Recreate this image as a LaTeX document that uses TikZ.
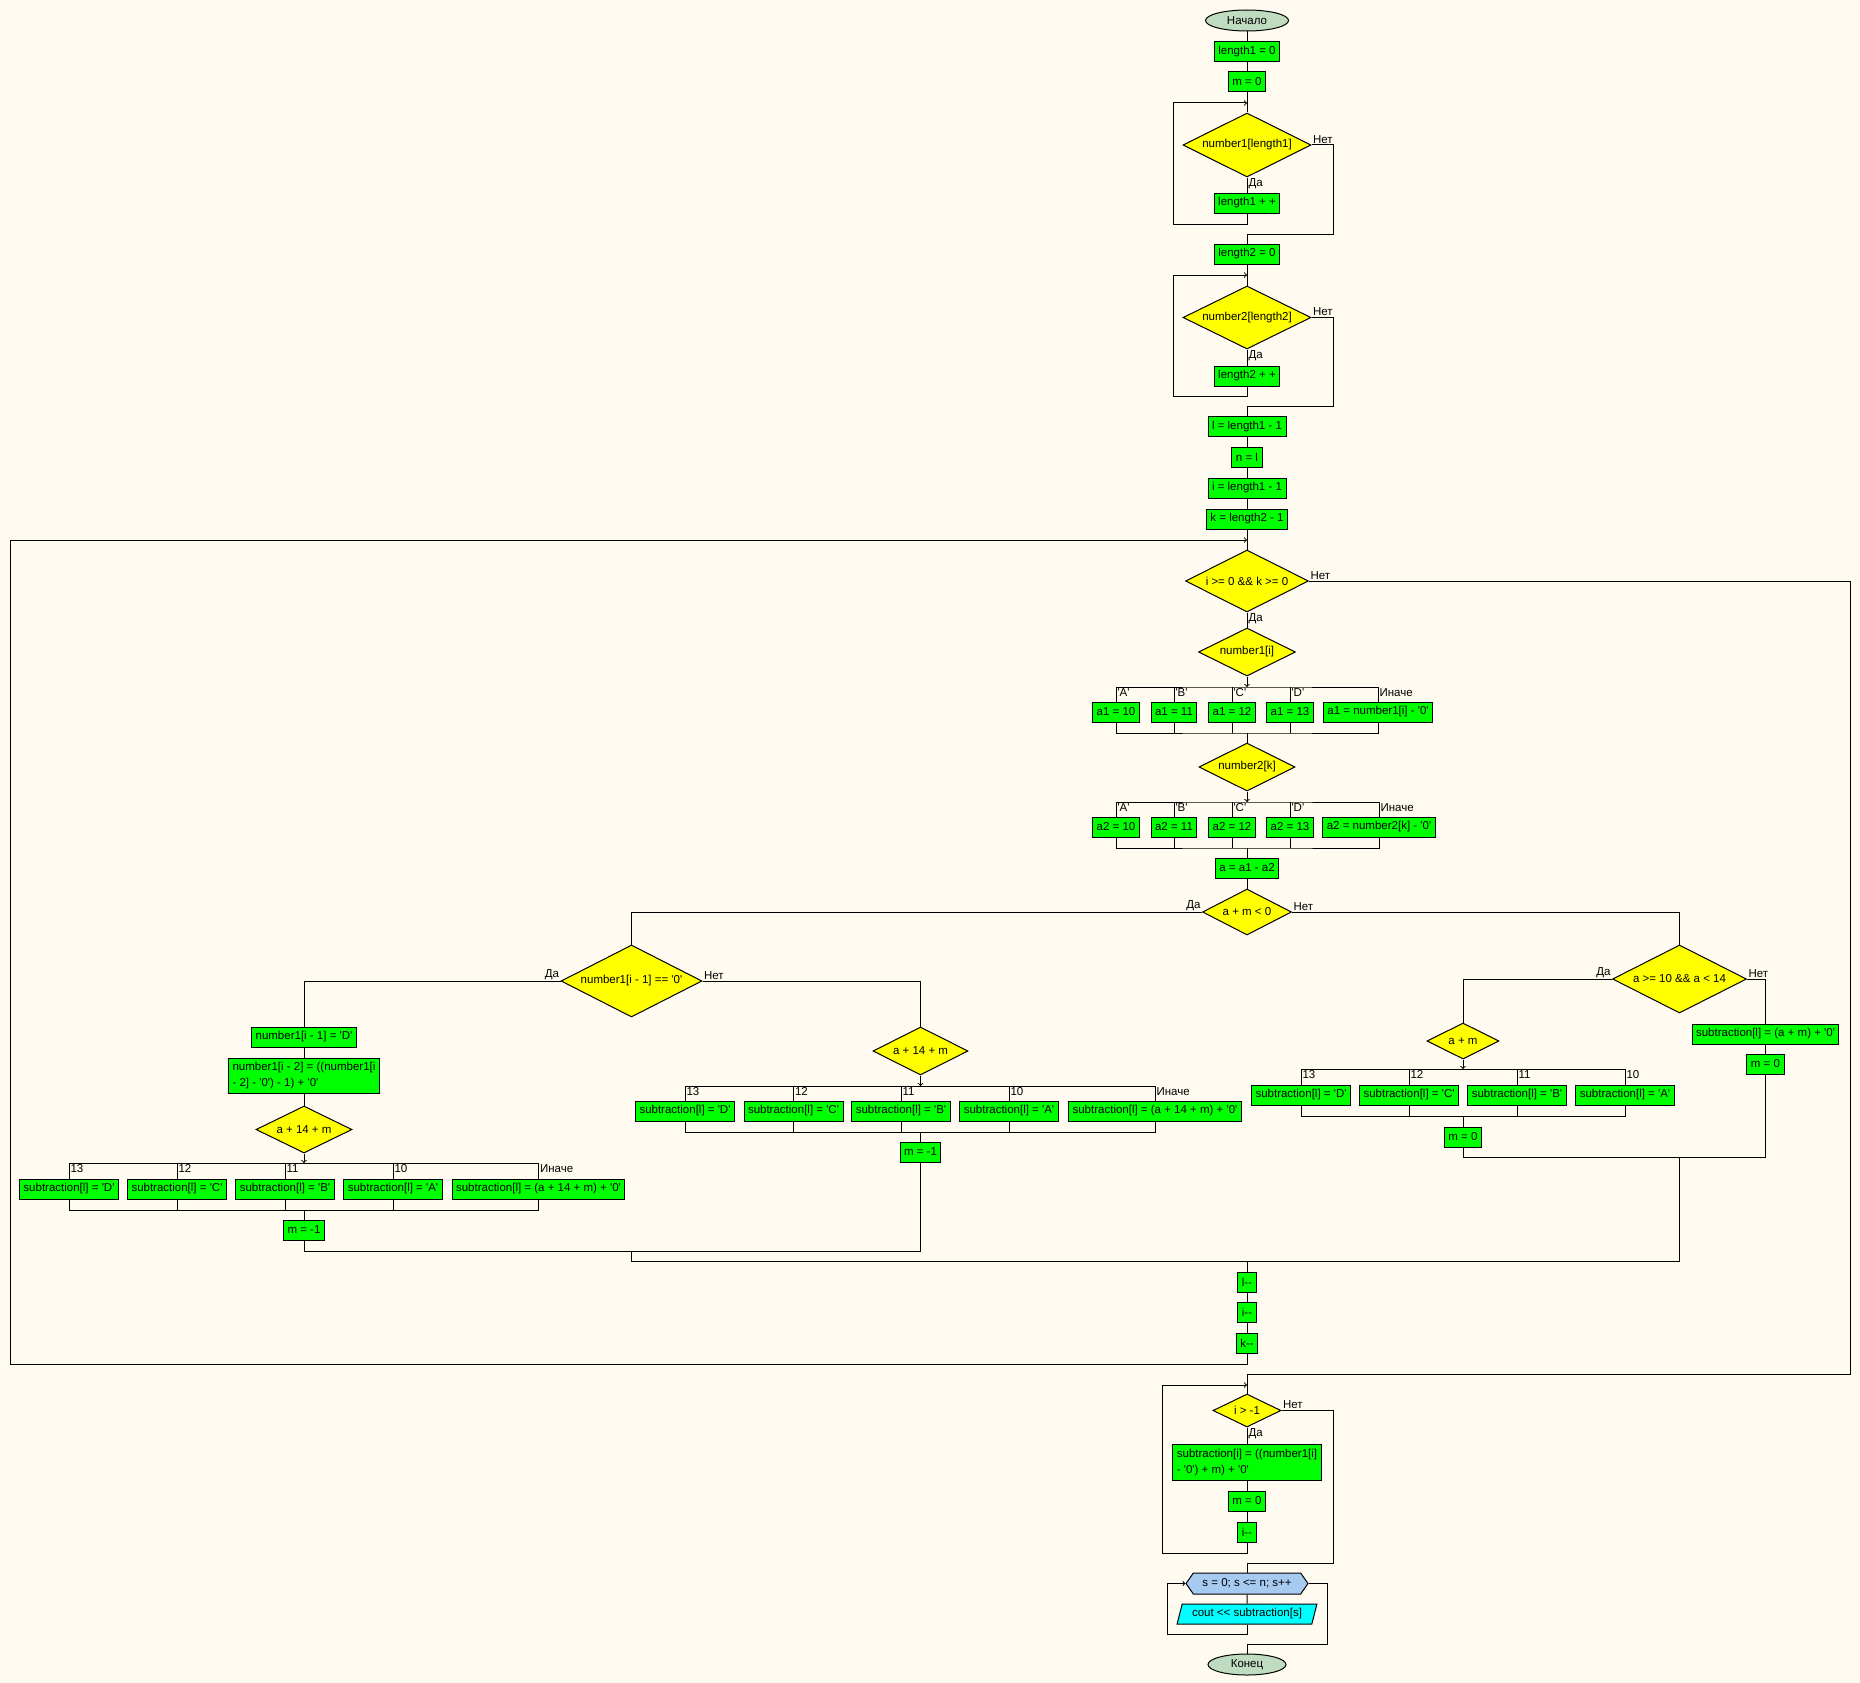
\documentclass[tikz,border=0pt]{standalone}
\usepackage{fontspec}
\newfontfamily\flowfont{Liberation Sans}
\usepackage{tikz}
\usetikzlibrary{shapes}

\definecolor{cream}{HTML}{FFFBF0}
\definecolor{flowgreen}{HTML}{00FF00}
\definecolor{flowyellow}{HTML}{FFFF00}
\definecolor{termgreen}{HTML}{C0DCC0}
\definecolor{loopblue}{HTML}{A6CAF0}
\definecolor{iocyan}{HTML}{00FFFF}

\begin{document}
\begin{tikzpicture}[x=1pt, y=-1pt, line width=1pt, font=\flowfont\fontsize{11.5}{16}\selectfont,
  term/.style={draw, ellipse, fill=termgreen, inner sep=0pt},
  proc/.style={draw, rectangle, fill=flowgreen, minimum height=20pt, inner xsep=4pt, inner ysep=4.5pt},
  cond/.style={draw, diamond, aspect=2, fill=flowyellow, inner sep=0pt},
  lbl/.style={inner sep=1pt}]

\fill [cream] (0,0) rectangle (1860,1683);
\useasboundingbox (0,0) rectangle (1860,1683);

\node [term, minimum width=83pt, minimum height=21pt] (0) at (1247,20.5) {Начало};
\node [proc] (1) at (1247,51.5) {length1 = 0};
\node [proc] (2) at (1247,82) {m = 0};
\node [cond, minimum width=128pt, minimum height=64pt] (3) at (1247,145) {number1[length1]};
\node [proc] (4) at (1247,203) {length1 + +};
\node [proc] (5) at (1247,254) {length2 = 0};
\node [cond, minimum width=128pt, minimum height=63pt] (6) at (1247,317.5) {number2[length2]};
\node [proc] (7) at (1247,376) {length2 + +};
\node [proc] (8) at (1247,426.5) {l = length1 - 1};
\node [proc] (9) at (1247,457) {n = l};
\node [proc] (10) at (1247,488) {i = length1 - 1};
\node [proc] (11) at (1247,519) {k = length2 - 1};
\node [cond, minimum width=123pt, minimum height=62pt] (12) at (1247,581) {i >= 0 \&\& k >= 0};
\node [cond, minimum width=97pt, minimum height=48pt] (13) at (1247,652) {number1[i]};
\node [proc] (14) at (1116,712) {a1 = 10};
\node [proc] (15) at (1174,712) {a1 = 11};
\node [proc] (16) at (1232,712) {a1 = 12};
\node [proc] (17) at (1290,712) {a1 = 13};
\node [proc] (18) at (1378,712) {a1 = number1[i] - '0'};
\node [cond, minimum width=96pt, minimum height=48pt] (19) at (1247,767) {number2[k]};
\node [proc] (20) at (1116,827) {a2 = 10};
\node [proc] (21) at (1174,827) {a2 = 11};
\node [proc] (22) at (1232,827) {a2 = 12};
\node [proc] (23) at (1290,827) {a2 = 13};
\node [proc] (24) at (1379,827) {a2 = number2[k] - '0'};
\node [proc] (25) at (1247,868) {a = a1 - a2};
\node [cond, minimum width=89pt, minimum height=46pt] (26) at (1247,912) {a + m < 0};
\node [cond, minimum width=141pt, minimum height=72pt] (27) at (631.5,981) {number1[i - 1] == '0'};
\node [proc] (28) at (304,1037) {number1[i - 1] = 'D'};
\node [proc, align=left] (29) at (304,1076) {number1[i - 2] = ((number1[i\\- 2] - '0') - 1) + '0'};
\node [cond, minimum width=96pt, minimum height=47pt] (30) at (304,1129.5) {a + 14 + m};
\node [proc] (31) at (69,1189) {subtraction[l] = 'D'};
\node [proc] (32) at (177,1189) {subtraction[l] = 'C'};
\node [proc] (33) at (285,1189) {subtraction[l] = 'B'};
\node [proc] (34) at (393,1189) {subtraction[l] = 'A'};
\node [proc] (35) at (538.5,1189) {subtraction[l] = (a + 14 + m) + '0'};
\node [proc] (36) at (304,1230) {m = -1};
\node [cond, minimum width=95pt, minimum height=48pt] (37) at (920.5,1051) {a + 14 + m};
\node [proc] (38) at (685,1111) {subtraction[l] = 'D'};
\node [proc] (39) at (793.5,1111) {subtraction[l] = 'C'};
\node [proc] (40) at (901,1111) {subtraction[l] = 'B'};
\node [proc] (41) at (1009,1111) {subtraction[l] = 'A'};
\node [proc] (42) at (1155,1111) {subtraction[l] = (a + 14 + m) + '0'};
\node [proc] (43) at (920.5,1152) {m = -1};
\node [cond, minimum width=134pt, minimum height=68pt] (44) at (1679.5,979) {a >= 10 \&\& a < 14};
\node [cond, minimum width=72pt, minimum height=36pt] (45) at (1463,1041) {a + m};
\node [proc] (46) at (1301,1095) {subtraction[l] = 'D'};
\node [proc] (47) at (1409,1095) {subtraction[l] = 'C'};
\node [proc] (48) at (1517,1095) {subtraction[l] = 'B'};
\node [proc] (49) at (1625,1095) {subtraction[l] = 'A'};
\node [proc] (50) at (1463,1137) {m = 0};
\node [proc] (51) at (1765.5,1034) {subtraction[l] = (a + m) + '0'};
\node [proc] (52) at (1765.5,1064) {m = 0};
\node [proc] (53) at (1247,1282) {l--};
\node [proc] (54) at (1247,1312) {i--};
\node [proc] (55) at (1247,1343) {k--};
\node [cond, minimum width=68pt, minimum height=33pt] (56) at (1247,1410.5) {i > -1};
\node [proc, align=left] (57) at (1247,1462.5) {subtraction[i] = ((number1[i]\\- '0') + m) + '0'};
\node [proc] (58) at (1247,1501) {m = 0};
\node [proc] (59) at (1247,1532) {i--};
\node [draw, signal, signal to=east and west, signal pointer angle=110, fill=loopblue, minimum width=122pt, minimum height=21pt, inner sep=0pt] (60) at (1247,1583.5) {s = 0; s <= n; s++};
\node [draw, trapezium, trapezium left angle=68, trapezium right angle=112, trapezium stretches=true, fill=iocyan, minimum width=140pt, minimum height=20pt, inner sep=0pt] (61) at (1247,1614) {cout << subtraction[s]};
\node [term, minimum width=78pt, minimum height=21pt] (62) at (1247,1664.5) {Конец};

\coordinate (l1) at (1247,103);
\coordinate (c1) at (1173,224);
\coordinate (r1) at (1333,234);
\coordinate (l2) at (1247,275);
\coordinate (c2) at (1173,396);
\coordinate (r2) at (1333,406);
\coordinate (l3) at (1247,540);
\coordinate (c3) at (10.5,1364);
\coordinate (r3) at (1850,1374);
\coordinate (l4) at (1247,1385);
\coordinate (c4) at (1162,1553);
\coordinate (r4) at (1333,1563);
\coordinate (c5) at (1167,1634);
\coordinate (r5) at (1327,1644);
\coordinate (t1) at (1247,687);
\coordinate (b1) at (1247,733);
\coordinate (t2) at (1247,802);
\coordinate (b2) at (1247,848);
\coordinate (t3) at (304,1163);
\coordinate (b3) at (304,1210);
\coordinate (t4) at (920.5,1086);
\coordinate (b4) at (920.5,1132);
\coordinate (t5) at (1463,1069);
\coordinate (b5) at (1463,1116);
\coordinate (m1) at (631.5,1251);
\coordinate (m2) at (1247,1261);
\coordinate (m3) at (1679.5,1157);

\draw (0) -- (1);
\draw (1) -- (2);
\draw (2) -- (3);
\draw (3) -- (4);
\draw [->] (4) |- (c1) |- (l1);
\draw (3.east) -| (r1) -| (5);
\draw (5) -- (6);
\draw (6) -- (7);
\draw [->] (7) |- (c2) |- (l2);
\draw (6.east) -| (r2) -| (8);
\draw (8) -- (9);
\draw (9) -- (10);
\draw (10) -- (11);
\draw (11) -- (12);
\draw (12) -- (13);

\draw [->] (13) -- (t1);
\draw (14.north) |- (t1) -| (18.north);
\draw (15.north) -- (15.north |- t1);
\draw (16.north) -- (16.north |- t1);
\draw (17.north) -- (17.north |- t1);
\draw (14.south) |- (b1) -| (18.south);
\draw (15.south) -- (15.south |- b1);
\draw (16.south) -- (16.south |- b1);
\draw (17.south) -- (17.south |- b1);
\draw (b1) -- (19);

\draw [->] (19) -- (t2);
\draw (20.north) |- (t2) -| (24.north);
\draw (21.north) -- (21.north |- t2);
\draw (22.north) -- (22.north |- t2);
\draw (23.north) -- (23.north |- t2);
\draw (20.south) |- (b2) -| (24.south);
\draw (21.south) -- (21.south |- b2);
\draw (22.south) -- (22.south |- b2);
\draw (23.south) -- (23.south |- b2);
\draw (b2) -- (25);
\draw (25) -- (26);

\draw (26.west) -| (27);
\draw (26.east) -| (44);
\draw (27.west) -| (28);
\draw (27.east) -| (37);
\draw (28) -- (29);
\draw (29) -- (30);

\draw [->] (30) -- (t3);
\draw (31.north) |- (t3) -| (35.north);
\draw (32.north) -- (32.north |- t3);
\draw (33.north) -- (33.north |- t3);
\draw (34.north) -- (34.north |- t3);
\draw (31.south) |- (b3) -| (35.south);
\draw (32.south) -- (32.south |- b3);
\draw (33.south) -- (33.south |- b3);
\draw (34.south) -- (34.south |- b3);
\draw (b3) -- (36);

\draw [->] (37) -- (t4);
\draw (38.north) |- (t4) -| (42.north);
\draw (39.north) -- (39.north |- t4);
\draw (40.north) -- (40.north |- t4);
\draw (41.north) -- (41.north |- t4);
\draw (38.south) |- (b4) -| (42.south);
\draw (39.south) -- (39.south |- b4);
\draw (40.south) -- (40.south |- b4);
\draw (41.south) -- (41.south |- b4);
\draw (b4) -- (43);

\draw (44.west) -| (45);
\draw (44.east) -| (51);
\draw (51) -- (52);
\draw [->] (45) -- (t5);
\draw (46.north) |- (t5) -| (49.north);
\draw (47.north) -- (47.north |- t5);
\draw (48.north) -- (48.north |- t5);
\draw (46.south) |- (b5) -| (49.south);
\draw (47.south) -- (47.south |- b5);
\draw (48.south) -- (48.south |- b5);
\draw (b5) -- (50);

\draw (36) |- (m1) -| (43);
\draw (50) |- (m3) -| (52);
\draw (m1) -- (m1 |- m2) -| (m3);
\draw (m2) -- (53);
\draw (53) -- (54);
\draw (54) -- (55);
\draw [->] (55) |- (c3) |- (l3);
\draw (12.east) -| (r3) -| (56);

\draw (56) -- (57);
\draw (57) -- (58);
\draw (58) -- (59);
\draw [->] (59) |- (c4) |- (l4);
\draw (56.east) -| (r4) -| (60);
\draw (60) -- (61);
\draw [->] (61) |- (c5) |- (60.west);
\draw (60.east) -| (r5) -| (62);

\node [lbl, anchor=south west] (3n) at (3.east) {Нет};
\node [lbl, anchor=north west] (3y) at (3.south) {Да};
\node [lbl, anchor=south west] (6n) at (6.east) {Нет};
\node [lbl, anchor=north west] (6y) at (6.south) {Да};
\node [lbl, anchor=south west] (12n) at (12.east) {Нет};
\node [lbl, anchor=north west] (12y) at (12.south) {Да};
\node [lbl, anchor=south east] (26y) at (26.west) {Да};
\node [lbl, anchor=south west] (26n) at (26.east) {Нет};
\node [lbl, anchor=south east] (27y) at (27.west) {Да};
\node [lbl, anchor=south west] (27n) at (27.east) {Нет};
\node [lbl, anchor=south east] (44y) at (44.west) {Да};
\node [lbl, anchor=south west] (44n) at (44.east) {Нет};
\node [lbl, anchor=south west] (56n) at (56.east) {Нет};
\node [lbl, anchor=north west] (56y) at (56.south) {Да};

\node [lbl, anchor=north west] (14c) at (14.north |- t1) {'A'};
\node [lbl, anchor=north west] (15c) at (15.north |- t1) {'B'};
\node [lbl, anchor=north west] (16c) at (16.north |- t1) {'C'};
\node [lbl, anchor=north west] (17c) at (17.north |- t1) {'D'};
\node [lbl, anchor=north west] (18c) at (18.north |- t1) {Иначе};
\node [lbl, anchor=north west] (20c) at (20.north |- t2) {'A'};
\node [lbl, anchor=north west] (21c) at (21.north |- t2) {'B'};
\node [lbl, anchor=north west] (22c) at (22.north |- t2) {'C'};
\node [lbl, anchor=north west] (23c) at (23.north |- t2) {'D'};
\node [lbl, anchor=north west] (24c) at (24.north |- t2) {Иначе};
\node [lbl, anchor=north west] (31c) at (31.north |- t3) {13};
\node [lbl, anchor=north west] (32c) at (32.north |- t3) {12};
\node [lbl, anchor=north west] (33c) at (33.north |- t3) {11};
\node [lbl, anchor=north west] (34c) at (34.north |- t3) {10};
\node [lbl, anchor=north west] (35c) at (35.north |- t3) {Иначе};
\node [lbl, anchor=north west] (38c) at (38.north |- t4) {13};
\node [lbl, anchor=north west] (39c) at (39.north |- t4) {12};
\node [lbl, anchor=north west] (40c) at (40.north |- t4) {11};
\node [lbl, anchor=north west] (41c) at (41.north |- t4) {10};
\node [lbl, anchor=north west] (42c) at (42.north |- t4) {Иначе};
\node [lbl, anchor=north west] (46c) at (46.north |- t5) {13};
\node [lbl, anchor=north west] (47c) at (47.north |- t5) {12};
\node [lbl, anchor=north west] (48c) at (48.north |- t5) {11};
\node [lbl, anchor=north west] (49c) at (49.north |- t5) {10};

\end{tikzpicture}
\end{document}
